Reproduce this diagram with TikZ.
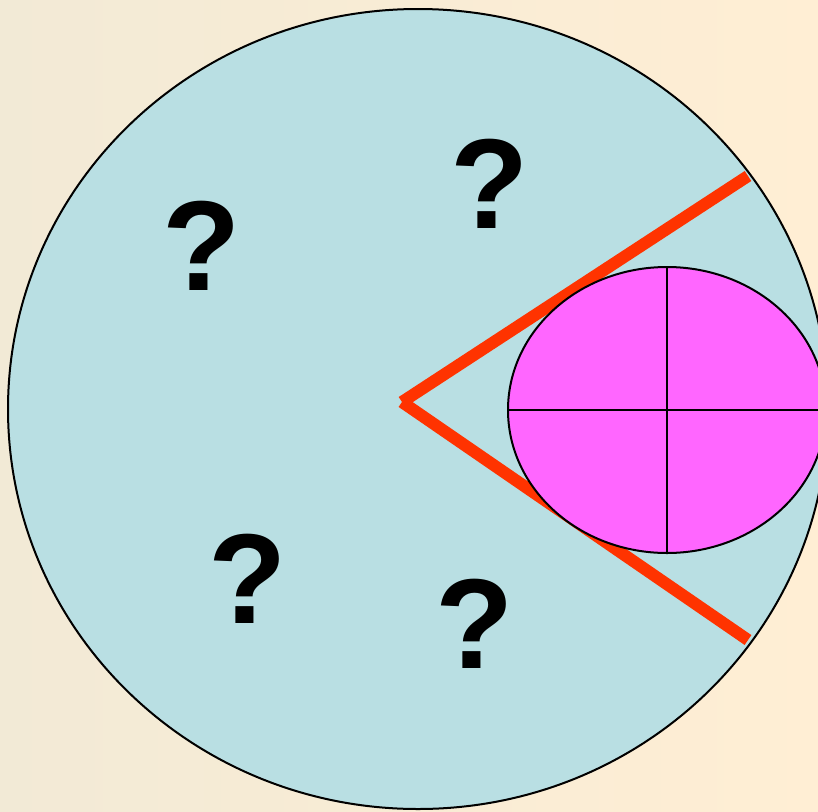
\documentclass[tikz,border=0pt]{standalone}
\usepackage{fontspec}
\setmainfont{Liberation Sans}
\usepackage{xcolor}
\usepackage{tikz}
\usetikzlibrary{positioning, calc}

\definecolor{bgleft}{RGB}{242,234,214}
\definecolor{bgright}{RGB}{255,238,212}
\definecolor{field}{RGB}{185,223,227}
\definecolor{beam}{RGB}{255,51,0}
\definecolor{target}{RGB}{255,102,255}

\begin{document}
\begin{tikzpicture}[x=1pt, y=-1pt,
    outline/.style={draw=black, line width=2pt},
    ray/.style={draw=beam, line width=12pt},
    qmark/.style={inner sep=0pt, font=\bfseries\fontsize{128}{128}\selectfont}]
    \useasboundingbox (0,0) rectangle (818,811);
    \shade[left color=bgleft, right color=bgright] (0,0) rectangle (818,811);

    % the whole field
    \draw[outline, fill=field] (418,409) ellipse [x radius=410, y radius=400];

    % viewing cone
    \coordinate (apex) at (402,402);
    \coordinate (topend) at (748,176);
    \coordinate (botend) at (748,640);
    \draw[ray] (apex) -- (topend);
    \draw[ray] (apex) -- (botend);

    % the object seen
    \coordinate (obj) at (667,410);
    \draw[outline, fill=target] (obj) ellipse [x radius=159, y radius=143];
    \draw[line width=1.5pt] ($(obj)+(0,-143)$) -- ($(obj)+(0,143)$);
    \draw[line width=1.5pt] ($(obj)+(-159,0)$) -- ($(obj)+(159,0)$);

    % unknowns
    \node[qmark] (q1) at (202,246) {?};
    \node[qmark] (q2) at (490,184) {?};
    \node[qmark] (q3) at (248,579) {?};
    \node[qmark] (q4) at (475,624) {?};
\end{tikzpicture}
\end{document}
